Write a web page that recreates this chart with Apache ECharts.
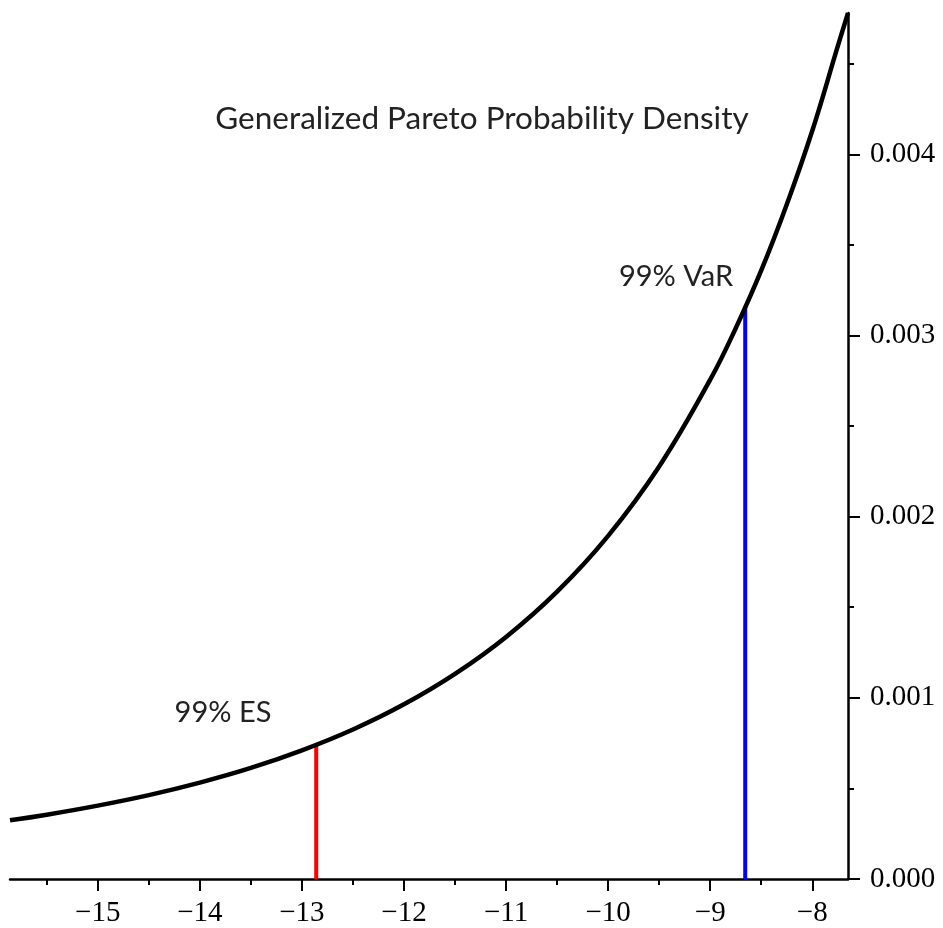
<!DOCTYPE html>
<html>
<head>
<meta charset="utf-8">
<script src="https://cdn.jsdelivr.net/npm/echarts@6/dist/echarts.min.js"></script>
<style>
    html, body { margin: 0; padding: 0; background: #fff; }
    #chart { width: 943px; height: 928px; }
</style>
</head>
<body>
<div id="chart"></div>
<script>
// 曲线数据
var curveX = [-15.86, -15.5, -15, -14.5, -14, -13.5, -13, -12.5, -12, -11.5, -11, -10.5, -10, -9.5, -9, -8.75, -8.5, -8.25, -8, -7.75, -7.65];
var curveY = [0.000324, 0.000355, 0.000405, 0.000463, 0.000532, 0.000613, 0.00071, 0.000825, 0.000964, 0.001132, 0.001336, 0.001586, 0.001894, 0.002277, 0.002756, 0.00304, 0.003359, 0.003723, 0.00413, 0.004597, 0.00478];

// VaR / ES 竖线
var esX = -12.86, esY = 0.000741;
var varX = -8.657, varY = 0.003157;

// 刻度
var xMajor = [-15, -14, -13, -12, -11, -10, -9, -8];
var xMinor = [-15.5, -14.5, -13.5, -12.5, -11.5, -10.5, -9.5, -8.5];
var yMajor = [0, 0.001, 0.002, 0.003, 0.004];
var yMinor = [0.0005, 0.0015, 0.0025, 0.0035, 0.0045];

var xMin = -15.86, xMax = -7.65, yMin = 0, yMax = 0.00478;

var chart = echarts.init(document.getElementById("chart"));

var serif = "Liberation Serif";
var sans = "Lato";

function zip(a, b) {
    return a.map(function (v, i) { return [v, b[i]]; });
}

var option = {
    animation: false,
    grid: { left: 10, right: 95, top: 13, bottom: 46 },
    xAxis: [
        {
            type: "value", min: xMin, max: xMax, position: "bottom",
            axisLine: { show: true, onZero: false, lineStyle: { color: "#000", width: 2.5 } },
            axisTick: { show: true, customValues: xMajor, length: 12, lineStyle: { color: "#000", width: 2 } },
            axisLabel: {
                customValues: xMajor, margin: 20, color: "#000", fontFamily: serif, fontSize: 29,
                formatter: function (v) { return v < 0 ? "\u2212" + Math.abs(v) : String(v); }
            },
            splitLine: { show: false }
        },
        {
            type: "value", min: xMin, max: xMax, position: "bottom",
            axisLine: { show: false, onZero: false },
            axisTick: { show: true, customValues: xMinor, length: 6, lineStyle: { color: "#000", width: 2 } },
            axisLabel: { show: false },
            splitLine: { show: false }
        }
    ],
    yAxis: [
        {
            type: "value", min: yMin, max: yMax, position: "right",
            axisLine: { show: true, onZero: false, lineStyle: { color: "#000", width: 2.5 } },
            axisTick: { show: true, customValues: yMajor, length: 12, lineStyle: { color: "#000", width: 2 } },
            axisLabel: {
                customValues: yMajor, margin: 22, color: "#000", fontFamily: serif, fontSize: 29,
                formatter: function (v) { return v.toFixed(3); }
            },
            splitLine: { show: false }
        },
        {
            type: "value", min: yMin, max: yMax, position: "right",
            axisLine: { show: false, onZero: false },
            axisTick: { show: true, customValues: yMinor, length: 6, lineStyle: { color: "#000", width: 2 } },
            axisLabel: { show: false },
            splitLine: { show: false }
        }
    ],
    series: [
        {
            type: "line", name: "es",
            data: [[esX, 0], [esX, esY]],
            symbol: "none",
            lineStyle: { color: "#ff0000", width: 4 }
        },
        {
            type: "line", name: "var",
            data: [[varX, 0], [varX, varY]],
            symbol: "none",
            lineStyle: { color: "#0000ff", width: 4 }
        },
        {
            type: "line", name: "density",
            data: zip(curveX, curveY),
            symbol: "none",
            smooth: 0.4,
            clip: false,
            lineStyle: { color: "#000", width: 4.5 }
        }
    ],
    graphic: [
        {
            type: "text", x: 482, y: 119,
            style: { text: "Generalized Pareto Probability Density", font: "31.5px " + sans, fill: "#222", align: "center", verticalAlign: "middle" }
        },
        {
            type: "text", x: 223, y: 713,
            style: { text: "99% ES", font: "29px " + sans, fill: "#222", align: "center", verticalAlign: "middle" }
        },
        {
            type: "text", x: 676, y: 277,
            style: { text: "99% VaR", font: "29px " + sans, fill: "#222", align: "center", verticalAlign: "middle" }
        }
    ]
};

chart.setOption(option);
</script>
</body>
</html>
